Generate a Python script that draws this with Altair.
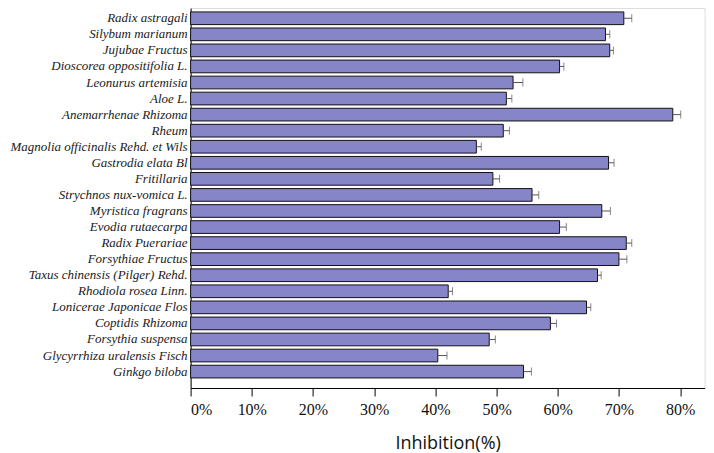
import altair as alt
import pandas as pd

herbs = [
    "Radix astragali", "Silybum marianum", "Jujubae Fructus", "Dioscorea oppositifolia L.",
    "Leonurus artemisia", "Aloe L.", "Anemarrhenae Rhizoma", "Rheum",
    "Magnolia officinalis Rehd. et Wils", "Gastrodia elata Bl", "Fritillaria",
    "Strychnos nux-vomica L.", "Myristica fragrans", "Evodia rutaecarpa",
    "Radix Puerariae", "Forsythiae Fructus", "Taxus chinensis (Pilger) Rehd.",
    "Rhodiola rosea Linn.", "Lonicerae Japonicae Flos", "Coptidis Rhizoma",
    "Forsythia suspensa", "Glycyrrhiza uralensis Fisch", "Ginkgo biloba",
]
inhibition = [70.8, 67.8, 68.5, 60.3, 52.7, 51.6, 78.8, 51.1, 46.7, 68.3, 49.4,
              55.8, 67.2, 60.3, 71.2, 70.0, 66.5, 42.1, 64.7, 58.8, 48.8, 40.4, 54.4]
error = [1.3, 0.7, 0.6, 0.7, 1.6, 0.9, 1.3, 1.0, 0.8, 0.9, 1.1,
         1.1, 1.4, 1.1, 0.9, 1.3, 0.6, 0.7, 0.7, 1.0, 1.0, 1.5, 1.3]
tick_values = [0, 10, 20, 30, 40, 50, 60, 70, 80]

df = pd.DataFrame({"herb": herbs, "value": inhibition, "err": error})
df["upper"] = df["value"] + df["err"]

y_enc = alt.Y(
    "herb:N", sort=herbs,
    scale=alt.Scale(paddingInner=0.21, paddingOuter=0.435, align=0.28),
    axis=alt.Axis(title=None, ticks=False, labelPadding=3.5, labelFont="Liberation Serif",
                  labelFontStyle="italic", labelFontSize=13, labelColor="#1a1a1a",
                  domainColor="#000000", domainWidth=1, labelLimit=300),
)
x_scale = alt.Scale(domain=[0, 84], nice=False, zero=True)

bars = alt.Chart(df).mark_bar(color="#8585C8", stroke="#111111", strokeWidth=1).encode(
    x=alt.X("value:Q", scale=x_scale,
            axis=alt.Axis(values=tick_values, labelExpr="datum.value + '%'",
                          title="Inhibition(%)", titleFont="Open Sans", titleFontSize=18,
                          titleFontWeight="normal", titleColor="#111111",
                          titleBaseline="alphabetic", titleY=61,
                          labelFont="Liberation Serif", labelFontSize=16, labelColor="#111111",
                          labelPadding=6, tickSize=8, tickColor="#000000", tickWidth=1,
                          domainColor="#000000", domainWidth=1, grid=False)),
    y=y_enc,
)

err_line = alt.Chart(df).mark_rule(color="#555555", strokeWidth=1).encode(
    x=alt.X("value:Q", scale=x_scale),
    x2="upper:Q",
    y=alt.Y("herb:N", sort=herbs),
)
err_cap = alt.Chart(df).mark_tick(color="#555555", thickness=1, size=8, orient="vertical").encode(
    x=alt.X("upper:Q", scale=x_scale),
    y=alt.Y("herb:N", sort=herbs),
)

chart = alt.layer(bars, err_line, err_cap).properties(
    width=514, height=380,
    autosize=alt.AutoSizeParams(type="none"),
    padding={"left": 182.6, "top": 0, "right": 1, "bottom": 65},
).configure_view(stroke=None).configure(background="white")

chart.save("out.html", embed_options={"renderer": "svg", "actions": False})
